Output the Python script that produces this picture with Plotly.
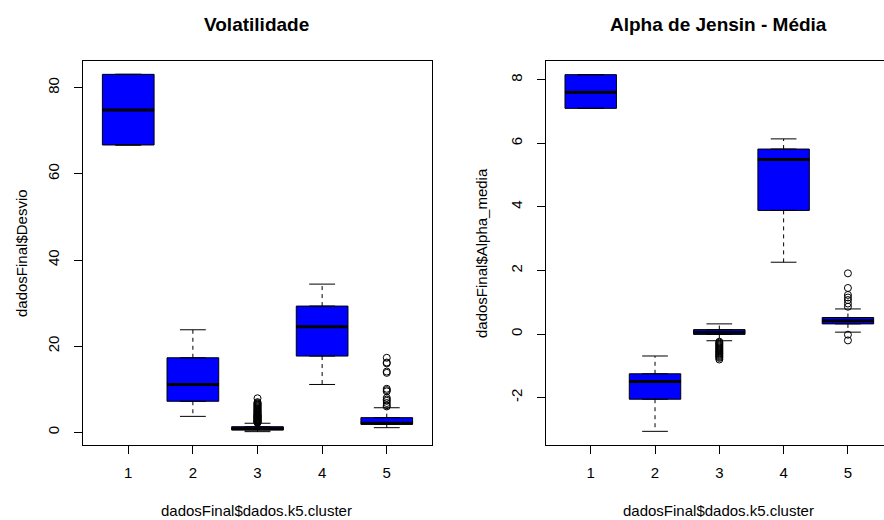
import plotly.graph_objects as go

# ---------------- data ----------------
groups = [1, 2, 3, 4, 5]
tick_labels = ["1", "2", "3", "4", "5"]

# Volatilidade (dadosFinal$Desvio)
vol_q1 = [66.7, 7.2, 0.53, 17.7, 1.85]
vol_med = [74.8, 11.1, 0.85, 24.5, 2.1]
vol_q3 = [83.1, 17.3, 1.3, 29.3, 3.4]
vol_low = [66.7, 3.7, 0.15, 11.1, 1.07]
vol_high = [83.1, 23.8, 2.1, 34.4, 5.7]
vol_out_g3 = [2.2, 2.3, 2.4, 2.5, 2.6, 2.7, 2.8, 2.9, 3.0, 3.1, 3.2, 3.3, 3.4, 3.5,
              3.6, 3.7, 3.8, 3.9, 4.0, 4.1, 4.2, 4.4, 4.5, 4.7, 4.8, 5.0, 5.1, 5.3,
              5.5, 5.6, 5.8, 6.0, 6.1, 6.3, 6.5, 6.6, 6.8, 7.0, 7.9]
vol_out_g5 = [17.3, 16.2, 16.0, 14.1, 13.8, 10.1, 9.8, 9.5, 8.0, 7.6, 7.3, 6.8, 6.3, 6.0]
vol_ticks = [0, 20, 40, 60, 80]
vol_tick_text = ["0", "20", "40", "60", "80"]

# Alpha de Jensin - Média (dadosFinal$Alpha_media)
alp_q1 = [7.10, -2.05, -0.01, 3.89, 0.32]
alp_med = [7.61, -1.49, 0.06, 5.49, 0.42]
alp_q3 = [8.16, -1.25, 0.14, 5.82, 0.52]
alp_low = [7.10, -3.06, -0.21, 2.26, 0.06]
alp_high = [8.16, -0.69, 0.32, 6.14, 0.79]
alp_out_g3 = [-0.24, -0.27, -0.30, -0.33, -0.36, -0.39, -0.42, -0.45, -0.48, -0.51,
              -0.54, -0.57, -0.60, -0.63, -0.66, -0.69, -0.72, -0.75, -0.80]
alp_out_g5 = [1.91, 1.45, 1.23, 1.15, 1.07, 0.96, 0.86, -0.02, -0.20]
alp_ticks = [-2, 0, 2, 4, 6, 8]
alp_tick_text = ["-2", "0", "2", "4", "6", "8"]

BOX_W = 0.8
STAPLE_W = 0.4
FONT = "Liberation Sans, Arial, sans-serif"

fig = go.Figure()


def add_panel(xa, ya, q1, med, q3, low, high, outliers):
    fig.add_trace(go.Box(
        x=groups, q1=q1, median=med, q3=q3, lowerfence=q1, upperfence=q3,
        width=BOX_W, fillcolor="#0000FF", line=dict(color="black", width=1),
        xaxis=xa, yaxis=ya, showlegend=False, hoverinfo="skip"))
    # whiskers (dashed)
    wx, wy = [], []
    for g, a, b, c, d in zip(groups, q1, q3, low, high):
        wx += [g, g, None, g, g, None]
        wy += [b, d, None, a, c, None]
    fig.add_trace(go.Scatter(x=wx, y=wy, mode="lines",
                             line=dict(color="black", width=1, dash="4px,4px"),
                             xaxis=xa, yaxis=ya, showlegend=False, hoverinfo="skip"))
    # staples
    sx, sy = [], []
    for g, c, d in zip(groups, low, high):
        sx += [g - STAPLE_W / 2, g + STAPLE_W / 2, None, g - STAPLE_W / 2, g + STAPLE_W / 2, None]
        sy += [d, d, None, c, c, None]
    fig.add_trace(go.Scatter(x=sx, y=sy, mode="lines",
                             line=dict(color="black", width=1),
                             xaxis=xa, yaxis=ya, showlegend=False, hoverinfo="skip"))
    # thick medians
    mx, my = [], []
    for g, m in zip(groups, med):
        mx += [g - BOX_W / 2, g + BOX_W / 2, None]
        my += [m, m, None]
    fig.add_trace(go.Scatter(x=mx, y=my, mode="lines",
                             line=dict(color="black", width=3),
                             xaxis=xa, yaxis=ya, showlegend=False, hoverinfo="skip"))
    # outliers
    ox, oy = [], []
    for g, vals in outliers:
        ox += [g] * len(vals)
        oy += vals
    fig.add_trace(go.Scatter(x=ox, y=oy, mode="markers",
                             marker=dict(symbol="circle-open", size=7,
                                         color="black", line=dict(width=1)),
                             xaxis=xa, yaxis=ya, showlegend=False, hoverinfo="skip"))


add_panel("x", "y", vol_q1, vol_med, vol_q3, vol_low, vol_high,
          [(3, vol_out_g3), (5, vol_out_g5)])
add_panel("x2", "y2", alp_q1, alp_med, alp_q3, alp_low, alp_high,
          [(3, alp_out_g3), (5, alp_out_g5)])

W, H = 884, 520
ydom = [(H - 445) / H, (H - 61) / H]

axis_common = dict(showgrid=False, zeroline=False, showline=True, linecolor="black",
                   linewidth=1, ticks="outside", ticklen=8, tickcolor="black",
                   tickfont=dict(family=FONT, size=15, color="black"))

fig.update_layout(
    width=W, height=H, margin=dict(l=0, r=0, t=0, b=0),
    paper_bgcolor="white", plot_bgcolor="white",
    xaxis=dict(domain=[83 / W, 432 / W], range=[0.3, 5.7], tickvals=groups,
               ticktext=tick_labels, mirror=True, anchor="y", ticklabelstandoff=6,
               **axis_common),
    yaxis=dict(domain=ydom, range=[-2.95, 86.2], tickvals=vol_ticks, ticktext=vol_tick_text,
               tickangle=-90, mirror=True, anchor="x", ticklabelstandoff=9, **axis_common),
    xaxis2=dict(domain=[545.7 / W, 1.0], range=[0.3, 5.561], tickvals=groups,
                ticktext=tick_labels, mirror=True, anchor="y2", ticklabelstandoff=6,
                **axis_common),
    yaxis2=dict(domain=ydom, range=[-3.49, 8.59], tickvals=alp_ticks, ticktext=alp_tick_text,
                tickangle=-90, mirror=False, anchor="x2", ticklabelstandoff=9, **axis_common),
    showlegend=False,
)

ann_font = dict(family=FONT, size=15, color="black")
title_font = dict(family=FONT, size=19, color="black")
annotations = [
    dict(text="<b>Volatilidade</b>", x=256 / W, y=1 - 24 / H, font=title_font),
    dict(text="<b>Alpha de Jensin - Média</b>", x=718 / W, y=1 - 24 / H, font=title_font),
    dict(text="dadosFinal$dados.k5.cluster", x=256 / W, y=1 - 510 / H, font=ann_font),
    dict(text="dadosFinal$dados.k5.cluster", x=718 / W, y=1 - 510 / H, font=ann_font),
    dict(text="dadosFinal$Desvio", x=21 / W, y=1 - 253 / H, textangle=-90, font=ann_font),
    dict(text="dadosFinal$Alpha_media", x=481 / W, y=1 - 253 / H, textangle=-90, font=ann_font),
]
for a in annotations:
    a.update(xref="paper", yref="paper", xanchor="center", yanchor="middle", showarrow=False)
fig.update_layout(annotations=annotations)

fig.write_html("out.html")
